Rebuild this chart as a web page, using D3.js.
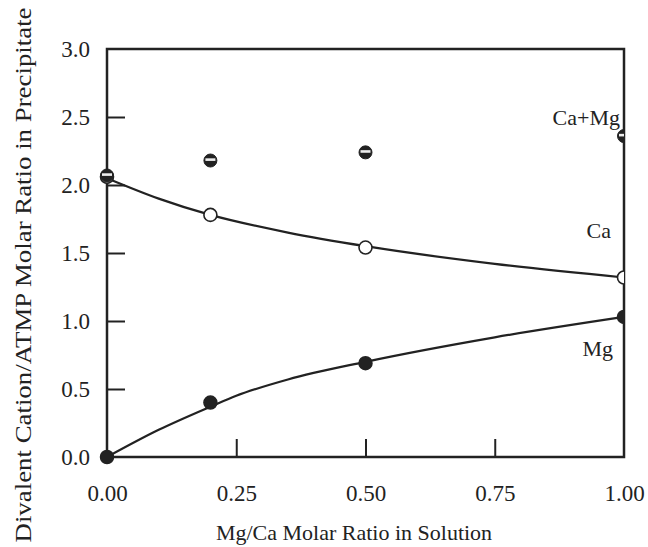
<!DOCTYPE html>
<html><head><meta charset="utf-8">
<script src="https://cdn.jsdelivr.net/npm/d3@7"></script>
<style>body{margin:0;background:#fff}svg{display:block}text{font-family:"Liberation Serif","DejaVu Serif",serif;fill:#222}</style>
</head><body><svg id="c" width="648" height="547"></svg>
<script>
const xTicks = [0, 0.25, 0.5, 0.75, 1.0];
const yTicks = [0, 0.5, 1.0, 1.5, 2.0, 2.5, 3.0];
const obsX = [0, 0.2, 0.5, 1.0];
const caObs = [2.06, 1.78, 1.54, 1.32];
const mgObs = [0.0, 0.40, 0.69, 1.03];
const sumObs = [2.07, 2.18, 2.24, 2.36];
const caFitX = [0, 0.1, 0.2, 0.35, 0.5, 0.75, 1.0];
const caFitY = [2.05, 1.90, 1.78, 1.65, 1.55, 1.42, 1.32];
const mgFitX = [0, 0.1, 0.2, 0.25, 0.35, 0.5, 0.75, 1.0];
const mgFitY = [0.0, 0.20, 0.37, 0.45, 0.57, 0.70, 0.88, 1.03];

const svg = d3.select("#c");
const L = 107, R = 624, T = 49, B = 457;
const x = d3.scaleLinear().domain([0, 1]).range([L, R]);
const y = d3.scaleLinear().domain([0, 3]).range([B, T]);
const ink = "#222";

svg.append("defs").append("clipPath").attr("id","clipR")
  .append("rect").attr("x",0).attr("y",0).attr("width",R).attr("height",547);

// axes
const xAxis = d3.axisBottom(x).tickValues(xTicks).tickFormat(d3.format(".2f")).tickSizeInner(-18).tickSizeOuter(0).tickPadding(28);
const gx = svg.append("g").attr("transform",`translate(0,${B})`).call(xAxis);
const yAxis = d3.axisLeft(y).tickValues(yTicks).tickFormat(d3.format(".1f")).tickSizeInner(-18).tickSizeOuter(0).tickPadding(17);
const gy = svg.append("g").attr("transform",`translate(${L},0)`).call(yAxis);
[gx, gy].forEach(g => {
  g.select(".domain").remove();
  g.selectAll(".tick line").attr("stroke", ink).attr("stroke-width", 2);
  g.selectAll(".tick text").style("font-size","23px").attr("fill", ink);
});
gx.selectAll(".tick").filter(d => d === 0 || d === 1).select("line").remove();
gy.selectAll(".tick").filter(d => d === 0 || d === 3).select("line").remove();

svg.append("rect").attr("x",L).attr("y",T).attr("width",R-L).attr("height",B-T)
  .attr("fill","none").attr("stroke",ink).attr("stroke-width",2.5);

// fit lines
const line = d3.line().x(d => x(d[0])).y(d => y(d[1])).curve(d3.curveMonotoneX);
svg.append("path").datum(d3.zip(caFitX, caFitY)).attr("d", line)
  .attr("fill","none").attr("stroke",ink).attr("stroke-width",2.2);
svg.append("path").datum(d3.zip(mgFitX, mgFitY)).attr("d", line)
  .attr("fill","none").attr("stroke",ink).attr("stroke-width",2.2);

const pts = svg.append("g").attr("clip-path","url(#clipR)");
const r = 6.5;
// Ca open circles
pts.selectAll(".ca").data(d3.zip(obsX, caObs)).join("circle")
  .attr("cx", d => x(d[0])).attr("cy", d => y(d[1])).attr("r", r)
  .attr("fill","#fff").attr("stroke",ink).attr("stroke-width",1.6);
// Mg filled
pts.selectAll(".mg").data(d3.zip(obsX, mgObs)).join("circle")
  .attr("cx", d => x(d[0])).attr("cy", d => y(d[1])).attr("r", r)
  .attr("fill",ink).attr("stroke",ink).attr("stroke-width",1.5);
// Ca+Mg half filled
const hs = pts.selectAll(".sum").data(d3.zip(obsX, sumObs)).join("g")
  .attr("transform", d => `translate(${x(d[0])},${y(d[1])})`);
hs.append("circle").attr("r", r).attr("fill", ink).attr("stroke", ink).attr("stroke-width",1);
hs.append("rect").attr("x",-r+1.5).attr("y",-2.2).attr("width",2*r-3).attr("height",2.6).attr("fill","#eee");

// series labels
svg.append("text").attr("x",620).attr("y",125).attr("text-anchor","end").style("font-size","22px").text("Ca+Mg");
svg.append("text").attr("x",611).attr("y",238).attr("text-anchor","end").style("font-size","22px").text("Ca");
svg.append("text").attr("x",613).attr("y",356).attr("text-anchor","end").style("font-size","22px").text("Mg");

// axis titles
svg.append("text").attr("x",354).attr("y",540).attr("text-anchor","middle").style("font-size","22px")
  .text("Mg/Ca Molar Ratio in Solution");
svg.append("text").attr("transform","translate(31,275) rotate(-90)").attr("text-anchor","middle").style("font-size","24px")
  .attr("textLength",535).attr("lengthAdjust","spacingAndGlyphs")
  .text("Divalent Cation/ATMP Molar Ratio in Precipitate");
</script></body></html>
